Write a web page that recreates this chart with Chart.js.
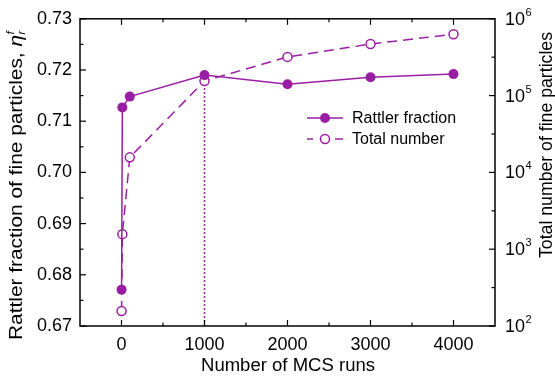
<!DOCTYPE html>
<html><head><meta charset="utf-8">
<script src="https://cdn.jsdelivr.net/npm/chart.js@4"></script>
<style>html,body{margin:0;padding:0;background:#fff}#c{display:block}</style>
</head><body>
<canvas id="c" width="555" height="378"></canvas>
<script>
// ---- data ----
const mcsRuns = [1, 10, 100, 1000, 2000, 3000, 4000];
const rattlerFraction = [0.6771, 0.7127, 0.7148, 0.7190, 0.7172, 0.7186, 0.7192];
const totalNumber = [157, 1570, 15700, 155000, 319000, 469000, 630000];
const xTickValues = [0, 1000, 2000, 3000, 4000];
const xMinorValues = [500, 1500, 2500, 3500];
const yTickValues = [0.67, 0.68, 0.69, 0.70, 0.71, 0.72, 0.73];
const yMinorValues = [0.675, 0.685, 0.695, 0.705, 0.715, 0.725];
const y2TickValues = [1e2, 1e3, 1e4, 1e5, 1e6];
const y2TickExponents = ['2', '3', '4', '5', '6'];
const y2MinorValues = [316.23, 3162.3, 31623, 316228];
const guideRun = 1000;
const seriesNames = ['Rattler fraction', 'Total number'];
const xTitle = 'Number of MCS runs';
const yTitle = 'Rattler fraction of fine particles, ';
const y2Title = 'Total number of fine particles';

const PURPLE = '#9a1ea4';
const FONT = '"Liberation Sans", Arial, sans-serif';
Chart.defaults.font.family = FONT;
Chart.defaults.color = '#000';

const guideY = rattlerFraction[mcsRuns.indexOf(guideRun)];

// draw text stretched to a target length along its baseline
function fitText(ctx, txt, cx, cy, targetLen, rot) {
  const w = ctx.measureText(txt).width;
  ctx.save();
  ctx.translate(cx, cy);
  if (rot) ctx.rotate(rot);
  ctx.scale(targetLen / w, 1);
  ctx.textAlign = 'center';
  ctx.textBaseline = 'middle';
  ctx.fillText(txt, 0, 0);
  ctx.restore();
}

const decor = {
  id: 'decor',
  afterDraw(chart) {
    const ctx = chart.ctx;
    const a = chart.chartArea;
    const sx = chart.scales.x, sy = chart.scales.y, sy2 = chart.scales.y2;
    ctx.save();
    ctx.strokeStyle = '#000';
    ctx.lineWidth = 1.5;
    ctx.strokeRect(a.left, a.top, a.right - a.left, a.bottom - a.top);
    ctx.lineWidth = 1.2;
    const seg = (x1, y1, x2, y2) => { ctx.beginPath(); ctx.moveTo(x1, y1); ctx.lineTo(x2, y2); ctx.stroke(); };
    xTickValues.forEach(v => { const p = sx.getPixelForValue(v); seg(p, a.bottom, p, a.bottom - 6); seg(p, a.top, p, a.top + 6); });
    xMinorValues.forEach(v => { const p = sx.getPixelForValue(v); seg(p, a.bottom, p, a.bottom - 3.5); seg(p, a.top, p, a.top + 3.5); });
    yTickValues.forEach(v => { const p = sy.getPixelForValue(v); seg(a.left, p, a.left + 6, p); });
    yMinorValues.forEach(v => { const p = sy.getPixelForValue(v); seg(a.left, p, a.left + 3.5, p); });
    y2TickValues.forEach(v => { const p = sy2.getPixelForValue(v); seg(a.right, p, a.right - 6, p); });
    y2MinorValues.forEach(v => { const p = sy2.getPixelForValue(v); seg(a.right, p, a.right - 3.5, p); });

    // right tick labels 10^n
    ctx.fillStyle = '#000';
    ctx.textBaseline = 'middle';
    ctx.textAlign = 'left';
    y2TickValues.forEach((v, i) => {
      const p = sy2.getPixelForValue(v);
      ctx.font = '18px ' + FONT;
      ctx.fillText('10', a.right + 10, p + 1);
      const w = ctx.measureText('10').width;
      ctx.font = '11px ' + FONT;
      ctx.fillText(y2TickExponents[i], a.right + 10 + w + 0.5, p - 6);
    });

    // x title
    ctx.font = '18px ' + FONT;
    fitText(ctx, xTitle, 288, 366, 174, 0);

    // right title
    ctx.font = '17.5px ' + FONT;
    fitText(ctx, y2Title, 547, 145, 226, -Math.PI / 2);

    // left title with eta_r^f
    ctx.save();
    ctx.translate(17, 184);
    ctx.rotate(-Math.PI / 2);
    ctx.font = '18px ' + FONT;
    const w1 = ctx.measureText(yTitle).width;
    ctx.font = 'italic 18px ' + FONT;
    const w2 = ctx.measureText('η').width;
    const total = w1 + w2 + 6;
    ctx.scale(312 / total, 1);
    let x0 = -total / 2;
    ctx.textAlign = 'left';
    ctx.textBaseline = 'middle';
    ctx.font = '18px ' + FONT;
    ctx.fillText(yTitle, x0, 0);
    ctx.font = 'italic 18px ' + FONT;
    ctx.fillText('η', x0 + w1, 0);
    ctx.font = 'italic 10px ' + FONT;
    ctx.fillText('f', x0 + w1 + w2 + 0.5, -6);
    ctx.fillText('r', x0 + w1 + w2 + 0.5, 5);
    ctx.restore();

    // legend
    const lx1 = 307, lx2 = 343, lxm = 325, tx = 352;
    const ly = [118, 139];
    ctx.strokeStyle = PURPLE;
    ctx.lineWidth = 1.5;
    seg(lx1, ly[0], lx2, ly[0]);
    ctx.fillStyle = PURPLE;
    ctx.beginPath(); ctx.arc(lxm, ly[0], 5, 0, Math.PI * 2); ctx.fill();
    seg(lx1, ly[1], lx1 + 6, ly[1]);
    seg(lx2 - 8, ly[1], lx2, ly[1]);
    ctx.fillStyle = '#fff';
    ctx.beginPath(); ctx.arc(lxm, ly[1], 4.5, 0, Math.PI * 2); ctx.fill(); ctx.stroke();
    ctx.fillStyle = '#000';
    ctx.font = '16px ' + FONT;
    ctx.textAlign = 'left';
    ctx.textBaseline = 'middle';
    ctx.fillText(seriesNames[0], tx, ly[0] + 1);
    ctx.fillText(seriesNames[1], tx, ly[1] + 1);
    ctx.restore();
  }
};

new Chart(document.getElementById('c'), {
  type: 'line',
  data: {
    datasets: [
      {
        label: seriesNames[0],
        data: mcsRuns.map((x, i) => ({ x, y: rattlerFraction[i] })),
        yAxisID: 'y',
        borderColor: PURPLE, backgroundColor: PURPLE,
        borderWidth: 1.5, pointRadius: 5, pointBorderWidth: 0,
        pointBackgroundColor: PURPLE, tension: 0, order: 1
      },
      {
        label: seriesNames[1],
        data: mcsRuns.map((x, i) => ({ x, y: totalNumber[i] })),
        yAxisID: 'y2',
        borderColor: PURPLE, backgroundColor: '#fff',
        borderWidth: 1.5, borderDash: [10, 6], pointRadius: 4.5, pointBorderWidth: 1.5,
        pointBackgroundColor: '#fff', pointBorderColor: PURPLE, tension: 0, order: 2
      },
      {
        label: 'guide',
        data: [{ x: guideRun, y: 0.67 }, { x: guideRun, y: guideY }],
        yAxisID: 'y',
        borderColor: PURPLE, borderWidth: 1.5, borderDash: [2, 2],
        pointRadius: 0, order: 3
      }
    ]
  },
  options: {
    responsive: false,
    animation: false,
    layout: { padding: { top: 14, left: 0, right: 0, bottom: 0 } },
    plugins: { legend: { display: false }, tooltip: { enabled: false } },
    scales: {
      x: {
        type: 'linear', min: -500, max: 4500,
        afterBuildTicks: s => { s.ticks = xTickValues.map(v => ({ value: v })); },
        afterFit: s => { s.height = 52; },
        grid: { display: false, drawTicks: false },
        border: { display: false },
        ticks: { font: { size: 18 }, padding: 8, maxRotation: 0, callback: v => String(v) }
      },
      y: {
        type: 'linear', position: 'left', min: 0.67, max: 0.73,
        afterBuildTicks: s => { s.ticks = yTickValues.map(v => ({ value: v })); },
        afterFit: s => { s.width = 80; },
        grid: { display: false, drawTicks: false },
        border: { display: false },
        ticks: { font: { size: 18 }, padding: 8, callback: v => Number(v).toFixed(2) }
      },
      y2: {
        type: 'logarithmic', position: 'right', min: 100, max: 1e6,
        afterFit: s => { s.width = 60; },
        grid: { display: false, drawTicks: false },
        border: { display: false },
        ticks: { display: false }
      }
    }
  },
  plugins: [decor]
});
</script>
</body></html>
